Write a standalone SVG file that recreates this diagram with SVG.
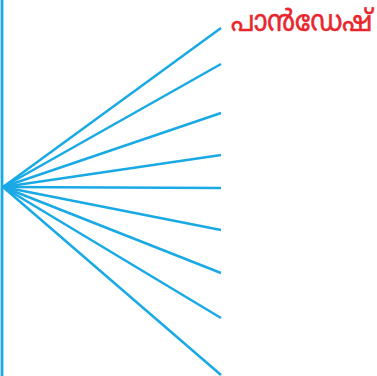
<svg xmlns="http://www.w3.org/2000/svg" width="377" height="376" viewBox="0 0 377 376">
<style>
.ln{stroke:#19a9e5;stroke-width:2.5;fill:none;stroke-linecap:butt}
.lbl{font-family:"Noto Sans Malayalam","Noto Sans",sans-serif;font-size:26px;fill:#e8262d;stroke:#e8262d;stroke-width:0.5}
</style>
<rect width="377" height="376" fill="#ffffff"/>
<g id="connectors">
<line class="ln" x1="2" y1="0" x2="2" y2="376" style="stroke-width:2.8"/>
<line class="ln" x1="3" y1="187" x2="221" y2="28"/>
<line class="ln" x1="3" y1="187" x2="221" y2="64"/>
<line class="ln" x1="3" y1="187" x2="221" y2="113"/>
<line class="ln" x1="3" y1="187" x2="221" y2="155"/>
<line class="ln" x1="3" y1="187" x2="221" y2="188"/>
<line class="ln" x1="3" y1="187" x2="221" y2="230"/>
<line class="ln" x1="3" y1="187" x2="221" y2="273"/>
<line class="ln" x1="3" y1="187" x2="221" y2="318"/>
<line class="ln" x1="3" y1="187" x2="221" y2="375"/>
</g>
<g id="label">
<text class="lbl" x="231" y="31" transform="translate(231 31) scale(1 1.12) translate(-231 -31)" textLength="141" lengthAdjust="spacingAndGlyphs">പാൻഡേഷ്</text>
</g>
</svg>
